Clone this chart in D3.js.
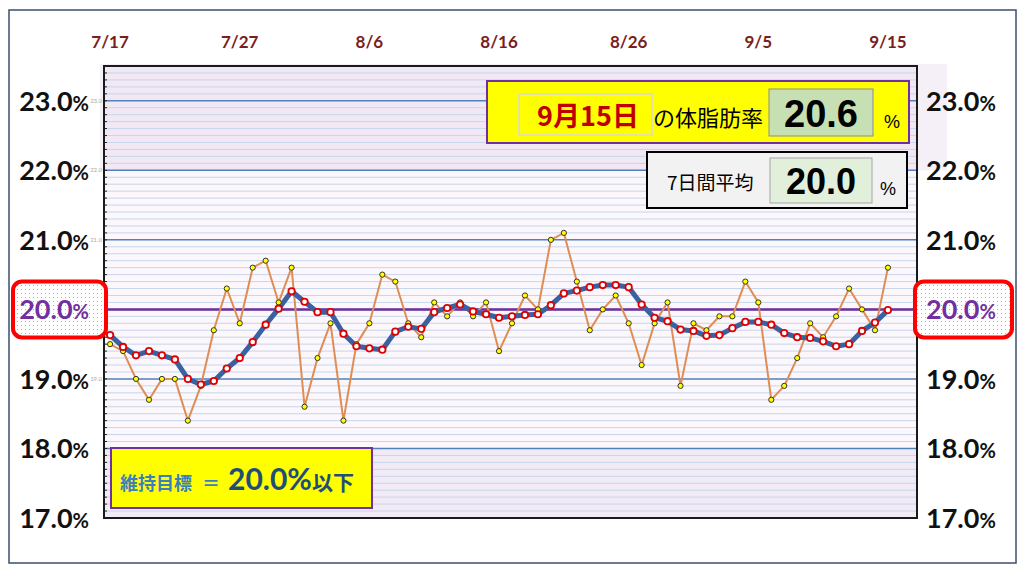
<!DOCTYPE html>
<html>
<head>
<meta charset="utf-8">
<script src="https://cdn.jsdelivr.net/npm/d3@7"></script>
<style>
  body { margin: 0; background: #fff; }
  svg { display: block; }
</style>
</head>
<body>
<script>
// daily body fat readings 7/17 .. 9/15
var daily = [19.5, 19.4, 19.0, 18.7, 19.0, 19.0, 18.4, 18.9, 19.7, 20.3,
  19.8, 20.6, 20.7, 20.1, 20.6, 18.6, 19.3, 19.8, 18.4, 19.5,
  19.8, 20.5, 20.4, 19.8, 19.6, 20.1, 19.9, 20.1, 19.9, 20.1,
  19.4, 19.8, 20.2, 20.0, 21.0, 21.1, 20.4, 19.7, 20.0, 20.2,
  19.8, 19.2, 19.8, 20.1, 18.9, 19.8, 19.7, 19.9, 19.9, 20.4,
  20.1, 18.7, 18.9, 19.3, 19.8, 19.6, 19.9, 20.3, 20.0, 19.7, 20.6];

// 7 day average as plotted
var avg7 = [19.63, 19.46, 19.34, 19.40, 19.34, 19.28, 19.00, 18.92, 18.97, 19.15,
  19.30, 19.53, 19.78, 20.01, 20.26, 20.11, 19.96, 19.96, 19.65, 19.47,
  19.44, 19.42, 19.68, 19.75, 19.72, 19.96, 20.02, 20.07, 19.97, 19.93,
  19.88, 19.90, 19.92, 19.93, 20.06, 20.23, 20.27, 20.32, 20.35, 20.35,
  20.32, 20.07, 19.88, 19.83, 19.71, 19.69, 19.62, 19.63, 19.73, 19.82,
  19.82, 19.78, 19.66, 19.60, 19.59, 19.54, 19.47, 19.50, 19.69, 19.81, 19.99];

var xTickLabels = ["7/17", "7/27", "8/6", "8/16", "8/26", "9/5", "9/15"];
var xTickIdx = [0, 10, 20, 30, 40, 50, 60];
var yTicks = [17, 18, 19, 20, 21, 22, 23];
var target = 20.0;
var lastDate = "9月15日";
var lastValue = "20.6";
var lastAvg = "20.0";

var svgWidth = 1024, svgHeight = 569;
var plot = { left: 104, right: 917, top: 66, bottom: 518 };

var svg = d3.select("body").append("svg")
  .attr("width", svgWidth)
  .attr("height", svgHeight);

var defs = svg.append("defs");
var pat = defs.append("pattern")
  .attr("id", "dots").attr("width", 4).attr("height", 4)
  .attr("patternUnits", "userSpaceOnUse");
pat.append("rect").attr("width", 4).attr("height", 4).attr("fill", "#fff");
pat.append("rect").attr("x", 1).attr("y", 1).attr("width", 1).attr("height", 1).attr("fill", "#ff8f8f");

var x = d3.scaleLinear().domain([-0.47, 62.24]).range([plot.left, plot.right]);
var y = d3.scaleLinear().domain([17, 23.5]).range([plot.bottom, plot.top]);

// outer frame
svg.append("rect")
  .attr("x", 9).attr("y", 10).attr("width", 1007).attr("height", 553)
  .attr("fill", "#fff").attr("stroke", "#3d4f6e").attr("stroke-width", 1.5);

// band that sticks out both sides of the plot
svg.append("rect")
  .attr("x", 100).attr("y", y(23.5) - 2).attr("width", 847).attr("height", y(22) - y(23.5) + 2)
  .attr("fill", "#f5eff7");

// plot backgrounds
svg.append("rect").attr("x", plot.left).attr("y", y(23.5))
  .attr("width", plot.right - plot.left).attr("height", y(22) - y(23.5)).attr("fill", "#f1e8f3");
svg.append("rect").attr("x", plot.left).attr("y", y(22))
  .attr("width", plot.right - plot.left).attr("height", y(18) - y(22)).attr("fill", "#fbf7fb");
svg.append("rect").attr("x", plot.left).attr("y", y(18))
  .attr("width", plot.right - plot.left).attr("height", y(17) - y(18)).attr("fill", "#f2ebf6");

// grid lines
var minor = d3.range(171, 235).map(v => v / 10);
svg.append("g").selectAll("line")
  .data(minor.filter(v => Math.abs(v - Math.round(v)) > 0.01))
  .enter().append("line")
  .attr("x1", plot.left).attr("x2", plot.right)
  .attr("y1", d => y(d)).attr("y2", d => y(d))
  .attr("stroke", "#c6d6ec").attr("stroke-width", 1);

svg.append("g").selectAll("line")
  .data(yTicks.slice(1))
  .enter().append("line")
  .attr("x1", plot.left).attr("x2", plot.right)
  .attr("y1", d => y(d)).attr("y2", d => y(d))
  .attr("stroke", "#4f81bd").attr("stroke-width", 1.5);

// little ticks on the left edge
svg.append("g").selectAll("line")
  .data(minor)
  .enter().append("line")
  .attr("x1", plot.left).attr("x2", plot.left + 3)
  .attr("y1", d => y(d)).attr("y2", d => y(d))
  .attr("stroke", "#222").attr("stroke-width", 1);

// target line
svg.append("line")
  .attr("x1", plot.left).attr("x2", plot.right)
  .attr("y1", y(target)).attr("y2", y(target))
  .attr("stroke", "#7030a0").attr("stroke-width", 2.5);

// plot frame
svg.append("rect")
  .attr("x", plot.left).attr("y", plot.top)
  .attr("width", plot.right - plot.left).attr("height", plot.bottom - plot.top)
  .attr("fill", "none").attr("stroke", "#1a1a1a").attr("stroke-width", 2);

// daily line + 7 day line
var line = d3.line().x((d, i) => x(i)).y(d => y(d));

svg.append("path")
  .datum(daily)
  .attr("d", line)
  .attr("fill", "none")
  .attr("stroke", "#e08d55")
  .attr("stroke-width", 2);

svg.append("path")
  .datum(avg7)
  .attr("d", line)
  .attr("fill", "none")
  .attr("stroke", "#3a62a0")
  .attr("stroke-width", 5)
  .attr("stroke-linejoin", "round");

svg.append("g").selectAll("circle")
  .data(daily)
  .enter().append("circle")
  .attr("cx", (d, i) => x(i))
  .attr("cy", d => y(d))
  .attr("r", 2.6)
  .attr("fill", "#ffff00")
  .attr("stroke", "#333")
  .attr("stroke-width", 1);

svg.append("g").selectAll("circle")
  .data(avg7)
  .enter().append("circle")
  .attr("cx", (d, i) => x(i))
  .attr("cy", d => y(d))
  .attr("r", 3.2)
  .attr("fill", "#fff")
  .attr("stroke", "#e00000")
  .attr("stroke-width", 1.8);

// date labels on top
svg.append("g").selectAll("text")
  .data(xTickIdx)
  .enter().append("text")
  .attr("x", d => x(d))
  .attr("y", 48)
  .attr("text-anchor", "middle")
  .style("font-family", "Lato, 'Open Sans', sans-serif")
  .style("font-weight", 700)
  .style("font-size", "17px")
  .attr("fill", "#7a1d1d")
  .text((d, i) => xTickLabels[i]);

// faint leftover axis numbers
svg.append("g").selectAll("text")
  .data([19, 21, 22, 23])
  .enter().append("text")
  .attr("x", 102)
  .attr("y", d => y(d) + 2)
  .attr("text-anchor", "end")
  .style("font-family", "Lato, sans-serif")
  .style("font-size", "6px")
  .attr("fill", "#aaa")
  .text(d => d.toFixed(1));

// red boxes behind the 20.0% labels
[[13, 93], [915, 97]].forEach(function(b) {
  svg.append("rect")
    .attr("x", b[0]).attr("y", y(target) - 28)
    .attr("width", b[1]).attr("height", 56)
    .attr("rx", 9)
    .attr("fill", "url(#dots)")
    .attr("stroke", "#ff0000")
    .attr("stroke-width", 4);
});

// y labels, both sides
function yLabel(g, anchor, xpos) {
  var t = g.selectAll("text")
    .data(yTicks)
    .enter().append("text")
    .attr("x", xpos)
    .attr("y", d => y(d) + 10)
    .attr("text-anchor", anchor)
    .style("font-family", "Lato, sans-serif")
    .style("font-weight", 700)
    .attr("fill", d => d === target ? "#7030a0" : "#111");
  t.append("tspan").style("font-size", "27px").text(d => d.toFixed(1));
  t.append("tspan").style("font-size", "20px").text("%");
}
yLabel(svg.append("g"), "end", 89);
yLabel(svg.append("g"), "start", 926);

// top info box
var info = svg.append("g");
info.append("rect")
  .attr("x", 487).attr("y", 81).attr("width", 422).attr("height", 62)
  .attr("fill", "#ffff00").attr("stroke", "#7030a0").attr("stroke-width", 2);
info.append("rect")
  .attr("x", 519).attr("y", 94).attr("width", 133).attr("height", 41)
  .attr("fill", "#ffff00").attr("stroke", "#d9d9d9").attr("stroke-width", 1.5);
info.append("text")
  .attr("x", 588).attr("y", 126).attr("text-anchor", "middle")
  .style("font-family", "'Noto Sans CJK JP', sans-serif")
  .style("font-weight", 700).style("font-size", "27px")
  .attr("fill", "#c00000").text(lastDate);
info.append("text")
  .attr("x", 653).attr("y", 126)
  .style("font-family", "'Noto Sans CJK JP', sans-serif")
  .style("font-size", "22px").attr("fill", "#000").text("の体脂肪率");
info.append("rect")
  .attr("x", 769).attr("y", 89).attr("width", 104).attr("height", 47)
  .attr("fill", "#c6e0b4").attr("stroke", "#8c8c8c").attr("stroke-width", 1);
info.append("text")
  .attr("x", 821).attr("y", 127).attr("text-anchor", "middle")
  .style("font-family", "'Liberation Sans Narrow', 'Arial Narrow', sans-serif")
  .style("font-weight", 700).style("font-size", "38px")
  .attr("fill", "#000").text(lastValue);
info.append("text")
  .attr("x", 892).attr("y", 128).attr("text-anchor", "middle")
  .style("font-family", "'Liberation Sans', sans-serif")
  .style("font-size", "18px").attr("fill", "#000").text("%");

// 7 day box
info.append("rect")
  .attr("x", 647).attr("y", 152).attr("width", 260).attr("height", 56)
  .attr("fill", "#f2f2f2").attr("stroke", "#000").attr("stroke-width", 2);
info.append("text")
  .attr("x", 667).attr("y", 190)
  .style("font-family", "'Noto Sans CJK JP', sans-serif")
  .style("font-size", "19px").attr("fill", "#000").text("7日間平均");
info.append("rect")
  .attr("x", 770).attr("y", 158).attr("width", 102).attr("height", 45)
  .attr("fill", "#e2efda").attr("stroke", "#a6a6a6").attr("stroke-width", 1);
info.append("text")
  .attr("x", 821).attr("y", 194).attr("text-anchor", "middle")
  .style("font-family", "'Liberation Sans Narrow', 'Arial Narrow', sans-serif")
  .style("font-weight", 700).style("font-size", "36px")
  .attr("fill", "#000").text(lastAvg);
info.append("text")
  .attr("x", 888).attr("y", 195).attr("text-anchor", "middle")
  .style("font-family", "'Liberation Sans', sans-serif")
  .style("font-size", "18px").attr("fill", "#000").text("%");

// target legend box
var goal = svg.append("g");
goal.append("rect")
  .attr("x", 111).attr("y", 448).attr("width", 261).attr("height", 60)
  .attr("fill", "#ffff00").attr("stroke", "#7030a0").attr("stroke-width", 2);
var gt = goal.append("text")
  .attr("x", 120).attr("y", 490)
  .style("font-family", "'Noto Sans CJK JP', sans-serif")
  .style("font-weight", 700);
gt.append("tspan").style("font-size", "18px").attr("fill", "#3a7fc0").text("維持目標");
gt.append("tspan").attr("dx", 10).style("font-size", "18px").attr("fill", "#3a7fc0").text("＝");
gt.append("tspan").attr("dx", 8).style("font-size", "30px").attr("fill", "#1f4e79")
  .style("font-family", "Lato, sans-serif").text(target.toFixed(1) + "%");
gt.append("tspan").style("font-size", "21px").attr("fill", "#1f4e79").text("以下");
</script>
</body>
</html>
